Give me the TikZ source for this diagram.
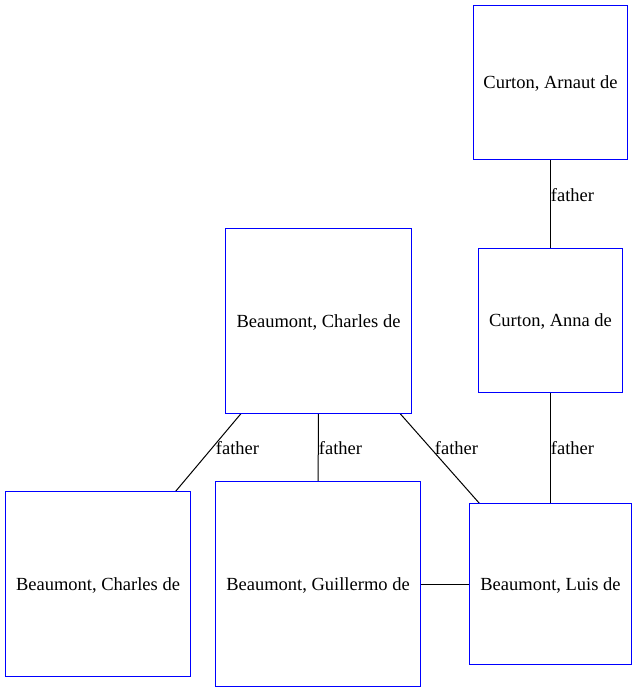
\documentclass[tikz,border=0pt]{standalone}
\usepackage{fontspec}
\setmainfont{Liberation Serif}
\begin{document}
\begin{tikzpicture}[x=1pt,y=-1pt,
  person/.style={inner sep=0pt, text depth=0pt, font=\fontsize{18.5}{22}\selectfont},
  frame/.style={draw=blue, line width=1.2pt},
  rel/.style={draw=black, line width=1pt},
  lbl/.style={inner sep=0pt, font=\fontsize{18.5}{22}\selectfont}]
\useasboundingbox (0,0) rectangle (637,693);
\node[person, minimum width=154, minimum height=154] (arnaut) at (550.5,82.5) {Curton, Arnaut de};
\node[person, minimum width=144, minimum height=144] (anna) at (550.5,320.5) {Curton, Anna de};
\node[person, minimum width=186, minimum height=185] (charles) at (318.5,321) {Beaumont, Charles de};
\node[person, minimum width=185, minimum height=185] (charlesb) at (98,584) {Beaumont, Charles de};
\node[person, minimum width=205, minimum height=205] (guillermo) at (318,584) {Beaumont, Guillermo de};
\node[person, minimum width=162, minimum height=161] (luis) at (550.5,584) {Beaumont, Luis de};
\draw[rel] (arnaut) -- (anna);
\draw[rel] (anna) -- (luis);
\draw[rel] (charles) -- (charlesb);
\draw[rel] (charles) -- (guillermo);
\draw[rel] (charles) -- (luis);
\draw[rel] (guillermo) -- (luis);
\node[lbl] (l1) at (572.5,195) {father};
\node[lbl] (l2) at (572.5,448) {father};
\node[lbl] (l3) at (237.5,448) {father};
\node[lbl] (l4) at (340.5,448) {father};
\node[lbl] (l5) at (456.5,448) {father};
\foreach \n in {arnaut,anna,charles,charlesb,guillermo,luis}
  \draw[frame] (\n.north west) rectangle (\n.south east);
\end{tikzpicture}
\end{document}
